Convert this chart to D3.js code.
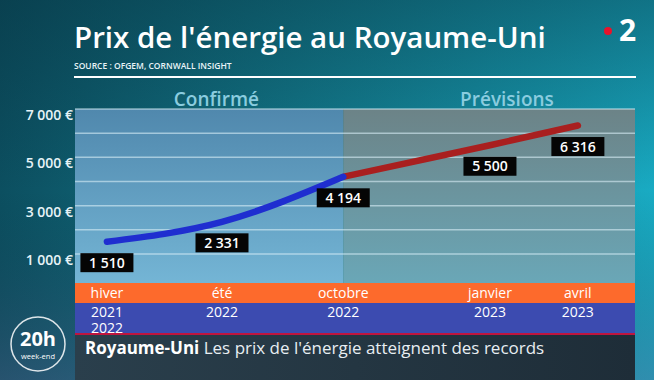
<!DOCTYPE html>
<html>
<head>
<meta charset="utf-8">
<script src="https://cdn.jsdelivr.net/npm/d3@7"></script>
<style>
  body { margin: 0; background: #0f5f6e; }
  svg { display: block; font-family: "Open Sans", sans-serif; }
</style>
</head>
<body>
<svg id="chart" width="654" height="380"></svg>
<script>
// data
var periods = ['hiver', 'été', 'octobre', 'janvier', 'avril'];
var years = [['2021', '2022'], ['2022'], ['2022'], ['2023'], ['2023']];
var prices = [1510, 2331, 4194, 5500, 6316];
var confirmedCount = 3;   // hiver -> octobre are confirmed, the rest are forecasts
var yTicks = [1000, 3000, 5000, 7000];
var gridValues = [1000, 2000, 3000, 4000, 5000, 6000, 7000];

var W = 654, H = 380;
var plotL = 75, plotR = 635, plotT = 109, bandTop = 283;

var fr = d3.formatLocale({ decimal: ',', thousands: ' ', grouping: [3], currency: ['', ' €'] });
var fmt = fr.format(',d');

var svg = d3.select('#chart');
var defs = svg.append('defs');

function grad(id, x2, y2, stops) {
  var g = defs.append('linearGradient').attr('id', id)
    .attr('x1', 0).attr('y1', 0).attr('x2', x2).attr('y2', y2);
  stops.forEach(function(s) {
    g.append('stop').attr('offset', s[0]).attr('stop-color', s[1]).attr('stop-opacity', s[2] == null ? 1 : s[2]);
  });
}
grad('bg', 1, 0, [[0, '#0c4f60'], [0.45, '#137a8c'], [1, '#19abc3']]);
grad('bgShade', 0, 1, [[0, '#062f3c', 0.45], [0.5, '#062f3c', 0], [1, '#5a5a8a', 0.35]]);
grad('conf', 0, 1, [[0, '#5088ad'], [1, '#74b5d5']]);
grad('prev', 0, 1, [[0, '#6c8387'], [1, '#6aa7b7']]);
grad('caption', 1, 0, [[0, '#2a3f4c'], [1, '#1e2d38']]);

svg.append('rect').attr('width', W).attr('height', H).attr('fill', 'url(#bg)');
svg.append('rect').attr('width', W).attr('height', H).attr('fill', 'url(#bgShade)');

// scales
var x = d3.scaleLinear()
  .domain(d3.range(periods.length))
  .range([0.057, 0.2625, 0.479, 0.741, 0.898].map(function(f) { return plotL + f * (plotR - plotL); }));
var y = d3.scaleLinear().domain([1000, 7000]).range([254, plotT]);

// plot areas
var split = x(confirmedCount - 1);
svg.append('rect').attr('x', plotL).attr('y', plotT).attr('width', split - plotL).attr('height', bandTop - plotT).attr('fill', 'url(#conf)');
svg.append('rect').attr('x', split).attr('y', plotT).attr('width', plotR - split).attr('height', bandTop - plotT).attr('fill', 'url(#prev)');

// grid
svg.append('g').selectAll('line').data(gridValues).enter().append('line')
  .attr('x1', plotL).attr('x2', plotR)
  .attr('y1', function(d) { return y(d); }).attr('y2', function(d) { return y(d); })
  .attr('stroke', '#d8eef6').attr('stroke-opacity', 0.6).attr('stroke-width', 1.5);

// y labels
svg.append('g').selectAll('text').data(yTicks).enter().append('text')
  .attr('x', plotL - 2).attr('y', function(d) { return y(d) + 11; })
  .attr('text-anchor', 'end')
  .attr('font-size', 14).attr('font-weight', 600).attr('fill', '#e6f3f7')
  .text(function(d) { return fmt(d) + ' €'; });

// section headers
svg.append('text').attr('x', plotL + 0.2525 * (plotR - plotL)).attr('y', 106)
  .attr('text-anchor', 'middle').attr('font-size', 19).attr('font-weight', 600)
  .attr('fill', '#8accdf').text('Confirmé');
svg.append('text').attr('x', plotL + 0.7714 * (plotR - plotL)).attr('y', 106)
  .attr('text-anchor', 'middle').attr('font-size', 19).attr('font-weight', 600)
  .attr('fill', '#8accdf').text('Prévisions');

// line
var pts = prices.map(function(d, i) { return [x(i), y(d)]; });
var line = d3.line().curve(d3.curveMonotoneX);
svg.append('path').attr('d', line(pts.slice(confirmedCount - 1)))
  .attr('fill', 'none').attr('stroke', '#a91f1f').attr('stroke-width', 6.5).attr('stroke-linecap', 'round');
svg.append('path').attr('d', line(pts.slice(0, confirmedCount)))
  .attr('fill', 'none').attr('stroke', '#1f2ed0').attr('stroke-width', 6.5).attr('stroke-linecap', 'round');

// value labels
var lab = svg.append('g').selectAll('g').data(prices).enter().append('g')
  .attr('transform', function(d, i) { return 'translate(' + x(i) + ',' + (y(d) + 21) + ')'; });
lab.append('rect').attr('x', -26.5).attr('y', -9.5).attr('width', 53).attr('height', 19).attr('fill', '#050505');
lab.append('text').attr('y', 5).attr('text-anchor', 'middle')
  .attr('font-size', 14).attr('font-weight', 600).attr('fill', '#fff')
  .text(function(d) { return fmt(d); });

// bottom bands
svg.append('rect').attr('x', plotL).attr('y', bandTop).attr('width', plotR - plotL).attr('height', 20).attr('fill', '#fd6a2c');
svg.append('rect').attr('x', plotL).attr('y', 303).attr('width', plotR - plotL).attr('height', 31).attr('fill', '#3c4bb0');
svg.append('rect').attr('x', plotL).attr('y', 333).attr('width', plotR - plotL).attr('height', 2).attr('fill', '#c0153e');
svg.append('rect').attr('x', plotL).attr('y', 335).attr('width', plotR - plotL).attr('height', H - 335).attr('fill', 'url(#caption)');

svg.append('g').selectAll('text').data(periods).enter().append('text')
  .attr('x', function(d, i) { return x(i); }).attr('y', 298)
  .attr('text-anchor', 'middle').attr('font-size', 14).attr('font-weight', 500).attr('fill', '#fff')
  .text(function(d) { return d; });

var yr = svg.append('g').selectAll('text').data(years).enter().append('text')
  .attr('x', function(d, i) { return x(i); }).attr('y', 317)
  .attr('text-anchor', 'middle').attr('font-size', 14).attr('font-weight', 500).attr('fill', '#fff');
yr.selectAll('tspan').data(function(d) { return d; }).enter().append('tspan')
  .attr('x', function() { return d3.select(this.parentNode).attr('x'); })
  .attr('dy', function(d, i) { return i ? 16 : 0; })
  .text(function(d) { return d; });

// caption
var cap = svg.append('text').attr('x', 85).attr('y', 354).attr('font-size', 17).attr('fill', '#fff');
cap.append('tspan').attr('font-weight', 700).text('Royaume-Uni');
cap.append('tspan').attr('font-weight', 400).attr('fill', '#e8eef2').text(' Les prix de l\'énergie atteignent des records');

// header
svg.append('text').attr('x', 74).attr('y', 48).attr('font-size', 29.5).attr('font-weight', 600)
  .attr('fill', '#fff').text('Prix de l\'énergie au Royaume-Uni');
svg.append('text').attr('x', 74).attr('y', 69).attr('font-size', 8.5).attr('font-weight', 600)
  .attr('fill', '#e8f4f8').text('SOURCE : OFGEM, CORNWALL INSIGHT');
svg.append('line').attr('x1', 74).attr('x2', 636).attr('y1', 77).attr('y2', 77)
  .attr('stroke', '#fff').attr('stroke-width', 2);

// channel logo
svg.append('circle').attr('cx', 608).attr('cy', 31).attr('r', 4).attr('fill', '#e8132b');
svg.append('text').attr('x', 619).attr('y', 41).attr('font-size', 30).attr('font-weight', 700)
  .attr('fill', '#fff').text('2');

// 20h week-end badge
svg.append('circle').attr('cx', 38).attr('cy', 344).attr('r', 27)
  .attr('fill', 'none').attr('stroke', '#fff').attr('stroke-opacity', 0.85).attr('stroke-width', 1.5);
svg.append('text').attr('x', 38).attr('y', 346).attr('text-anchor', 'middle')
  .attr('font-size', 20).attr('font-weight', 700).attr('fill', '#fff').text('20h');
svg.append('text').attr('x', 38).attr('y', 359).attr('text-anchor', 'middle')
  .attr('font-size', 7.5).attr('fill', '#fff').text('week-end');
</script>
</body>
</html>
